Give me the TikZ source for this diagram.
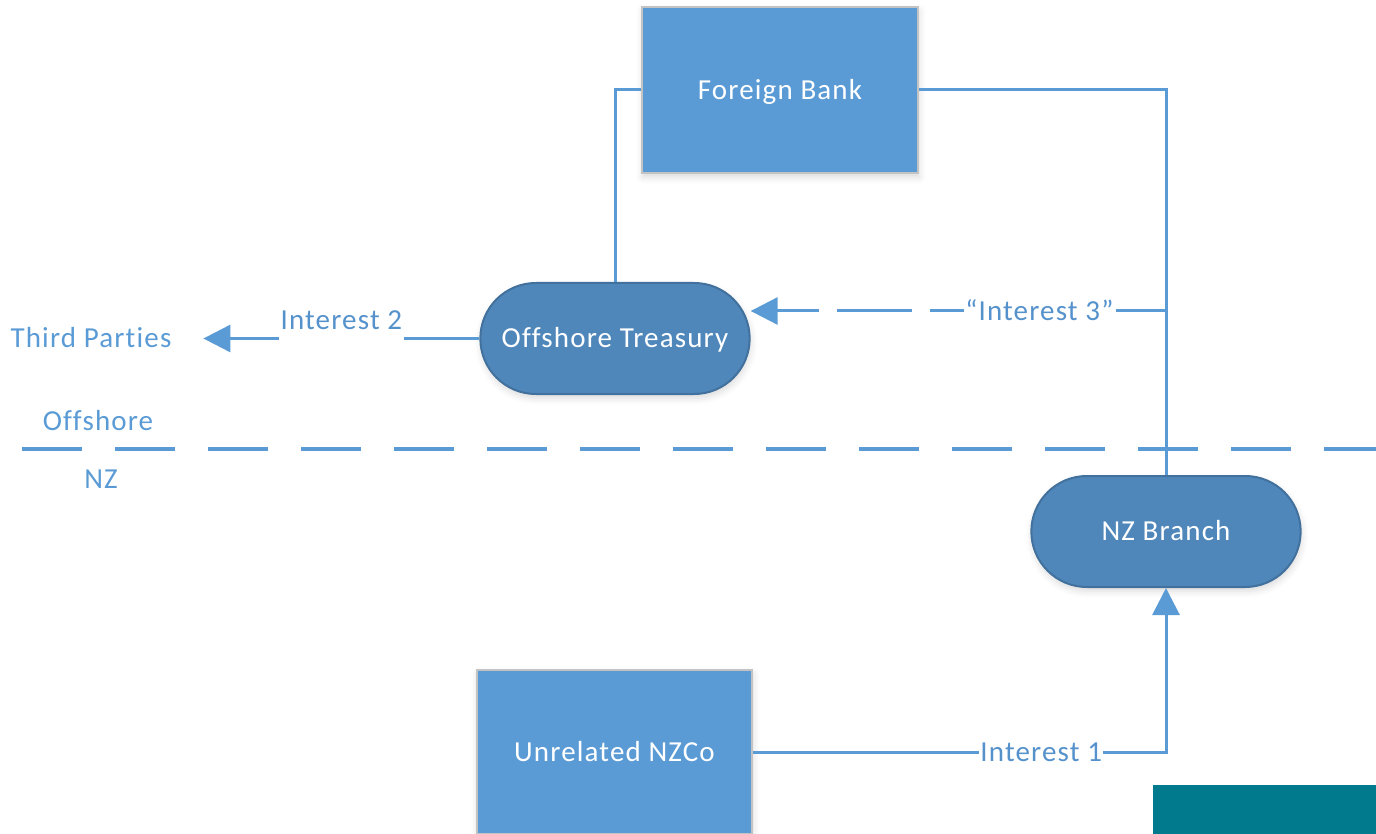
\documentclass[tikz,border=0pt]{standalone}
\usepackage{fontspec}
\setmainfont{Carlito}[LetterSpace=4,Ligatures=NoCommon]
\usetikzlibrary{shapes.misc,arrows.meta,shadows.blur}
\definecolor{boxblue}{HTML}{5B9BD5}
\definecolor{pillblue}{HTML}{4F87BB}
\definecolor{pilledge}{HTML}{41719C}
\definecolor{boxedge}{HTML}{C3C3C3}
\definecolor{linkblue}{HTML}{5B9BD5}
\definecolor{labelblue}{HTML}{5B9BD5}
\definecolor{flowtext}{HTML}{5592CC}
\definecolor{tealfill}{HTML}{017A8E}
\begin{document}
\begin{tikzpicture}[x=1pt,y=-1pt,
  every node/.style={font=\fontsize{29}{34}\selectfont},
  capbox/.style={text height=18.5pt,text depth=0pt},
  softshadow/.style={blur shadow={shadow xshift=1pt,shadow yshift=-4pt,shadow blur radius=7pt,shadow opacity=15}},
  entity/.style={rectangle,capbox,fill=boxblue,draw=boxedge,line width=1.5pt,
    minimum width=276pt,minimum height=166pt,text=white,softshadow},
  unit/.style={rounded rectangle,capbox,fill=pillblue,draw=pilledge,line width=2pt,
    minimum width=276pt,minimum height=111pt,text=white,softshadow},
  conn/.style={draw=linkblue,line width=3pt},
  tip/.style={-{Triangle[length=27pt,width=27pt]}},
  flowlbl/.style={capbox,fill=white,inner xsep=1.5pt,inner ysep=4pt,text=flowtext},
  raisedlbl/.style={text height=18.5pt,text depth=12pt,fill=white,inner xsep=1.5pt,
    inner ysep=1pt,text=flowtext,anchor=base,yshift=9pt},
  region/.style={capbox,text=labelblue,inner sep=0pt},
  divider/.style={draw=linkblue,line width=3.5pt,dash pattern=on 60pt off 33pt}
]
\useasboundingbox (0,0) rectangle (1376,834);

% parties
\node[entity] (fb) at (780,90) {Foreign Bank};
\node[unit] (ot) at (615,338.5) {Offshore Treasury};
\node[unit] (nzb) at (1166,531.5) {NZ Branch};
\node[entity,minimum width=275pt,minimum height=164pt] (nzco) at (614.5,752) {Unrelated NZCo};
\fill[tealfill] (1153,785) rectangle (1376,834);

% free labels
\node[region,outer xsep=32pt] (tp) at (91,338) {Third Parties};
\node[region] (off) at (98,421) {Offshore};
\node[region] (nz) at (101,479) {NZ};

% jurisdiction boundary
\coordinate (bl) at (22,449);
\coordinate (br) at (1376,449);
\draw[divider] (bl) -- (br);

% ownership links
\draw[conn] (fb.west) -| (ot.north);
\draw[conn] (fb.east) -| (nzb.north);

% interest flows
\coordinate (j3) at (nzb.north |- 0,311);
\draw[conn,tip,dash pattern=on 75pt off 18pt,dash phase=25pt]
  (j3) -- node[flowlbl,pos=0.305] {“Interest 3”} (ot.east |- j3);
\draw[conn,tip] (ot.west) -- node[raisedlbl,pos=0.5] {Interest 2} (ot.west -| tp.east);
\draw[conn,tip] (nzco.east) -| node[flowlbl,pos=0.349] {Interest 1} (nzb.south);
\end{tikzpicture}
\end{document}
